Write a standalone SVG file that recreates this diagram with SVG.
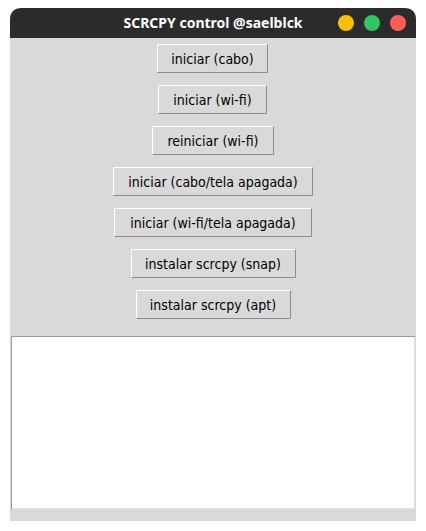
<svg xmlns="http://www.w3.org/2000/svg" width="426" height="531" viewBox="0 0 426 531">
<style>
.btn rect.f{fill:#d9d9d9}
.hl{stroke:#ffffff;stroke-width:1;fill:none}
.sh{stroke:#8c8c8c;stroke-width:1;fill:none}
.lbl{font-family:"DejaVu Sans Condensed","DejaVu Sans",sans-serif;font-stretch:condensed;font-size:14px;fill:#000;text-anchor:middle}
</style>
<rect width="426" height="531" fill="#ffffff"/>
<g id="window">
<path d="M10,20 Q10,8 22,8 L404,8 Q416,8 416,20 L416,521 L10,521 Z" fill="#d9d9d9"/>
<path d="M10,20 Q10,8 22,8 L404,8 Q416,8 416,20 L416,38 L10,38 Z" fill="#2b2b2b"/>
<text x="213" y="28" font-family="'Noto Sans',sans-serif" font-size="14" font-weight="bold" fill="#ffffff" text-anchor="middle">SCRCPY control @saelblck</text>
<circle cx="346" cy="23" r="8" fill="#fbbe00"/>
<circle cx="372" cy="23" r="8" fill="#33c463"/>
<circle cx="398" cy="23" r="8" fill="#fe5e55"/>
</g>
<g id="btn1" class="btn"><rect class="f" x="157" y="44" width="111" height="28"/><path class="sh" d="M157.5,72.5 H267.5 V44.5"/><path class="hl" d="M157.5,72 V44.5 H267"/><text class="lbl" x="212.5" y="63.5">iniciar (cabo)</text></g>
<g id="btn2" class="btn"><rect class="f" x="158" y="85" width="109" height="29"/><path class="sh" d="M158.5,113.5 H266.5 V85.5"/><path class="hl" d="M158.5,113 V85.5 H266"/><text class="lbl" x="212.5" y="104.5">iniciar (wi-fi)</text></g>
<g id="btn3" class="btn"><rect class="f" x="152" y="126" width="122" height="29"/><path class="sh" d="M152.5,154.5 H273.5 V126.5"/><path class="hl" d="M152.5,154 V126.5 H273"/><text class="lbl" x="213" y="145.5">reiniciar (wi-fi)</text></g>
<g id="btn4" class="btn"><rect class="f" x="113" y="167" width="200" height="29"/><path class="sh" d="M113.5,195.5 H312.5 V167.5"/><path class="hl" d="M113.5,195 V167.5 H312"/><text class="lbl" x="213" y="186.5">iniciar (cabo/tela apagada)</text></g>
<g id="btn5" class="btn"><rect class="f" x="114" y="208" width="198" height="29"/><path class="sh" d="M114.5,236.5 H311.5 V208.5"/><path class="hl" d="M114.5,236 V208.5 H311"/><text class="lbl" x="213" y="227.5">iniciar (wi-fi/tela apagada)</text></g>
<g id="btn6" class="btn"><rect class="f" x="131" y="249" width="165" height="29"/><path class="sh" d="M131.5,277.5 H295.5 V249.5"/><path class="hl" d="M131.5,277 V249.5 H295"/><text class="lbl" x="213" y="268.5">instalar scrcpy (snap)</text></g>
<g id="btn7" class="btn"><rect class="f" x="136" y="290" width="155" height="29"/><path class="sh" d="M136.5,318.5 H290.5 V290.5"/><path class="hl" d="M136.5,318 V290.5 H290"/><text class="lbl" x="213" y="309.5">instalar scrcpy (apt)</text></g>
<g id="textarea">
<rect x="11" y="336" width="404" height="173" fill="#ffffff"/>
<path d="M11.5,509 V336.5 H415" stroke="#999999" stroke-width="1" fill="none"/>
<path d="M12,508.5 H414.5 V337" stroke="#e3e3e3" stroke-width="1" fill="none"/>
</g>
<g id="connectors"></g>
</svg>
